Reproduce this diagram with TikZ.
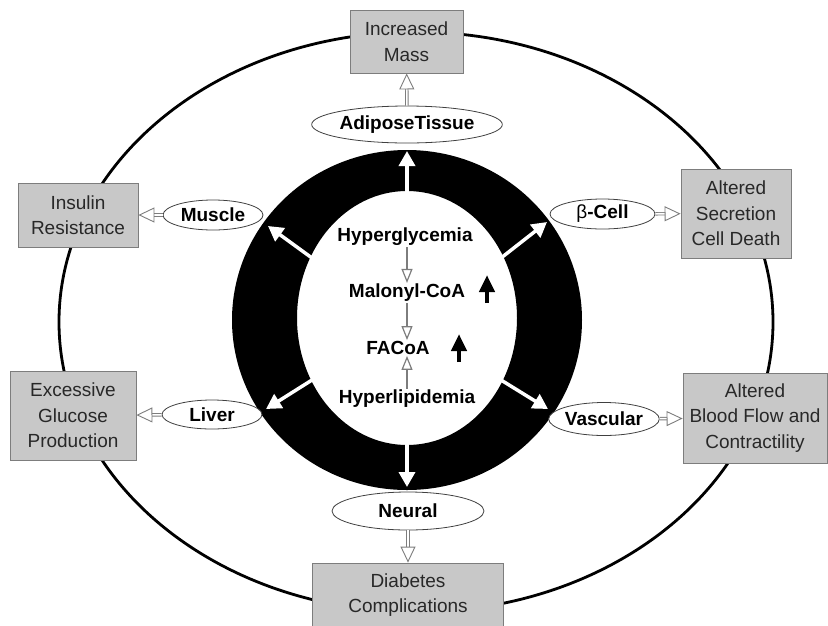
\documentclass[tikz,border=0pt]{standalone}
\usepackage{fontspec}
\setmainfont{Liberation Sans}
\usetikzlibrary{arrows.meta,shapes.geometric}
\definecolor{boxg}{RGB}{200,200,200}
\definecolor{edgeg}{RGB}{125,125,125}
\definecolor{txtg}{RGB}{40,40,40}

\begin{document}
\begin{tikzpicture}[x=1pt,y=-1pt,font=\fontsize{19}{25.5}\selectfont,
  effect/.style={draw=edgeg,line width=0.8pt,fill=boxg,text=txtg,inner sep=0pt,align=center},
  organ/.style={ellipse,draw=black!75,line width=0.8pt,fill=white,inner sep=0pt,font=\fontsize{19}{24}\selectfont\bfseries},
  metab/.style={font=\fontsize{19}{24}\selectfont\bfseries,inner sep=1pt},
  hollow/.style={draw=edgeg,double=white,double distance=1.6pt,line width=0.9pt,
    -{Triangle[open,length=16pt,width=15pt,line width=0.9pt,fill=white]}},
  thinopen/.style={draw=edgeg,line width=1.2pt,-{Triangle[open,length=14pt,width=11pt,fill=white]}},
  ringarrow/.style={draw=white,line width=3.5pt,-{Triangle[length=15pt,width=16pt]}},
  rise/.style={draw=black,line width=4.5pt,-{Triangle[length=17pt,width=15pt]}}]
  \useasboundingbox (0,0) rectangle (828,625);
  % outer ellipse and black ring
  \draw[line width=2.8pt] (416,322) ellipse [x radius=357,y radius=290];
  \fill[even odd rule] (407,320) ellipse [x radius=175,y radius=170]
    (407,318) ellipse [x radius=110,y radius=127];
  % effects
  \node[effect,minimum width=113,minimum height=63] (mass) at (406.5,41.5) {Increased\\Mass};
  \node[effect,minimum width=120,minimum height=64] (insulin) at (78,215) {Insulin\\Resistance};
  \node[effect,minimum width=110,minimum height=89] (secr) at (736,213.5) {Altered\\Secretion\\Cell Death};
  \node[effect,minimum width=126,minimum height=89] (gluc) at (73,415.5) {Excessive\\Glucose\\Production};
  \node[effect,minimum width=144,minimum height=90] (flow) at (755,418) {Altered\\Blood Flow and\\Contractility};
  \node[effect,minimum width=191,minimum height=64] (compl) at (408,595) {Diabetes\\Complications};
  % tissues
  \node[organ,minimum width=150,minimum height=37] (adip) at (407,124.5) {AdiposeTissue};
  \node[organ,minimum width=100,minimum height=30] (musc) at (213,215) {Muscle};
  \node[organ,minimum width=105,minimum height=30] (beta) at (602.5,214) {{\mdseries β}-Cell};
  \node[organ,minimum width=100,minimum height=29] (liver) at (212,414.5) {Liver};
  \node[organ,minimum width=103,minimum height=33] (vasc) at (604,419) {Vascular};
  \node[organ,minimum width=152,minimum height=38] (neur) at (408,511) {Neural};
  \draw[hollow] (adip) -- (mass);
  \draw[hollow] (musc) -- (insulin);
  \draw[hollow] (beta) -- (secr);
  \draw[hollow] (liver) -- (gluc);
  \draw[hollow] (vasc) -- (flow);
  \draw[hollow] (neur) -- (compl);
  % arrows across the ring
  \coordinate (up0) at (407,193);   \coordinate (up1) at (407,151);
  \coordinate (ul0) at (312,258);   \coordinate (ul1) at (268,226);
  \coordinate (ur0) at (501,258);   \coordinate (ur1) at (547,222);
  \coordinate (ll0) at (312,380);   \coordinate (ll1) at (266,409);
  \coordinate (lr0) at (501,380);   \coordinate (lr1) at (548,409);
  \coordinate (dn0) at (407,444);   \coordinate (dn1) at (407,487);
  \foreach \a in {up,ul,ur,ll,lr,dn}
    \draw[ringarrow] (\a0) -- (\a1);
  % centre
  \node[metab] (hgly) at (405,237) {Hyperglycemia};
  \node[metab] (malo) at (407,293) {Malonyl-CoA};
  \node[metab] (faco) at (398,348) {FACoA};
  \node[metab] (hlip) at (407,399) {Hyperlipidemia};
  \draw[thinopen] (hgly.south -| malo) -- (malo);
  \draw[thinopen] (malo) -- (malo.south |- faco.north);
  \draw[thinopen] (hlip) -- (hlip.north |- faco.south);
  \coordinate (ma0) at (487,303); \coordinate (ma1) at (487,275);
  \coordinate (fa0) at (459,362); \coordinate (fa1) at (459,334);
  \draw[rise] (ma0) -- (ma1);
  \draw[rise] (fa0) -- (fa1);
\end{tikzpicture}
\end{document}
